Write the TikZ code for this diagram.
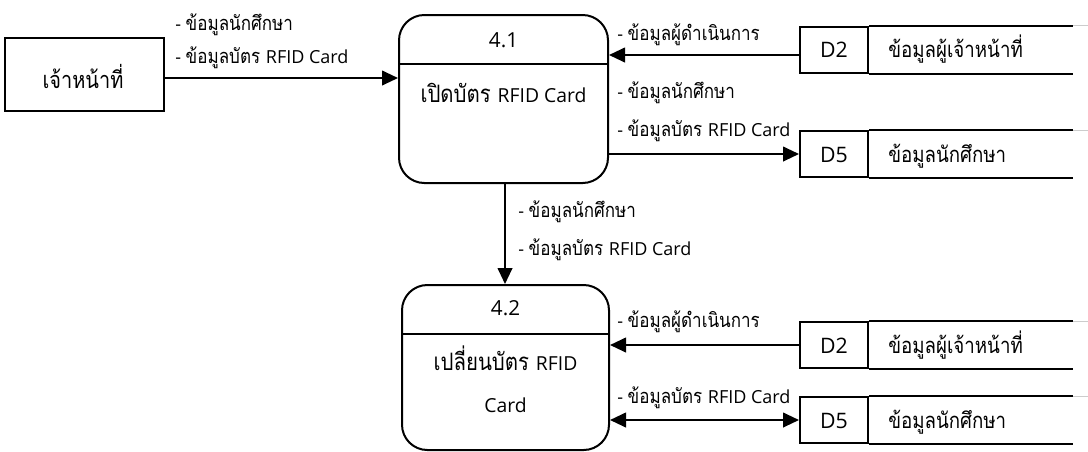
\documentclass[tikz,border=0pt]{standalone}
\usepackage{fontspec}
\setmainfont[Script=Thai,FakeStretch=0.85]{Loma}
\newfontfamily\latn{Open Sans}
\newcommand\latL[1]{{\latn\fontsize{13.5pt}{16pt}\selectfont #1}}
\newcommand\latP[1]{{\latn\fontsize{14.5pt}{17pt}\selectfont #1}}
\newcommand\latN[1]{{\latn\fontsize{15.5pt}{18pt}\selectfont #1}}
\newcommand\latS[1]{{\latn\fontsize{16pt}{19pt}\selectfont #1}}
\usetikzlibrary{arrows.meta,calc}
\begin{document}
\begin{tikzpicture}[x=0.75pt,y=-0.75pt,
  box/.style={draw,line width=1.5pt,inner sep=0pt},
  proc/.style={draw,line width=1.5pt,rounded corners=19pt,inner sep=0pt},
  flow/.style={line width=1.5pt,-{Triangle[length=12pt,width=11pt]}},
  flowb/.style={line width=1.5pt,{Triangle[length=12pt,width=11pt]}-{Triangle[length=12pt,width=11pt]}},
  lbl/.style={anchor=base west,inner sep=0pt,font=\fontsize{15pt}{18pt}\selectfont},
  big/.style={anchor=base,inner sep=0pt,font=\fontsize{18pt}{21pt}\selectfont},
  ent/.style={anchor=base,inner sep=0pt,font=\fontsize{17.6pt}{21pt}\selectfont},
  st/.style={anchor=base,inner sep=0pt},
  stn/.style={anchor=base west,inner sep=0pt,font=\fontsize{16.5pt}{19pt}\selectfont}]
\useasboundingbox (0,0) rectangle (1088,451);
% external entity
\node[box,minimum width=159*0.75pt,minimum height=73*0.75pt] (ent) at (84.5,74.5) {};
\node[ent] (entt) at (83,88) {เจ้าหน้าที่};
% process 4.1
\node[proc,minimum width=209*0.75pt,minimum height=168*0.75pt] (p1) at (503.5,99) {};
\draw[line width=1.5pt] (p1.west |- {(0,64)}) -- (p1.east |- {(0,64)});
\node[big] (p1n) at (503.5,47) {\latN{4.1}};
\node[big] (p1t) at (503.5,102) {เปิดบัตร \latP{RFID Card}};
% process 4.2
\node[proc,minimum width=207*0.75pt,minimum height=165*0.75pt] (p2) at (505.5,367.5) {};
\draw[line width=1.5pt] (p2.west |- {(0,334)}) -- (p2.east |- {(0,334)});
\node[big] (p2n) at (505.5,315) {\latN{4.2}};
\node[big] (p2t) at (505.5,370) {เปลี่ยนบัตร \latP{RFID}};
\node[big] (p2c) at (505.5,412) {\latP{Card}};
% data stores
\foreach \n/\y/\id/\name in {d2a/49.5/D2/ข้อมูลผู้เจ้าหน้าที่, d5a/154/D5/ข้อมูลนักศึกษา, d2b/345/D2/ข้อมูลผู้เจ้าหน้าที่, d5b/420/D5/ข้อมูลนักศึกษา}{
  \node[box,minimum width=68*0.75pt,minimum height=46*0.75pt] (\n) at (834,\y) {};
  \node[st] (\n id) at (834,\y+8) {\latS{\id}};
  \node[stn] (\n nm) at (888,\y+8) {\name};
  \draw[line width=1.5pt] (\n.north east) -- ++(204,0);
  \draw[line width=1.5pt] (\n.south east) -- ++(204,0);
  \draw[black!20,line width=0.6pt] ($(\n.north east)+(204,0)$) -- ++(16,0);
}
% flows
\draw[flow] (ent.east |- {(0,78)}) -- (p1.west |- {(0,78)});
\node[lbl] (l1) at (175,30) {\latL{- }ข้อมูลนักศึกษา};
\node[lbl] (l2) at (175,63) {\latL{- }ข้อมูลบัตร \latL{RFID Card}};
\draw[flow] (d2a.west |- {(0,55)}) -- (p1.east |- {(0,55)});
\node[lbl] (l3) at (617,40) {\latL{- }ข้อมูลผู้ดำเนินการ};
\draw[flow] (p1.east |- d5a.west) -- (d5a.west);
\node[lbl] (l4) at (617,98) {\latL{- }ข้อมูลนักศึกษา};
\node[lbl] (l5) at (617,136) {\latL{- }ข้อมูลบัตร \latL{RFID Card}};
\draw[flow] (p1.south -| {(505,0)}) -- (p2.north -| {(505,0)});
\node[lbl] (l6) at (518,217) {\latL{- }ข้อมูลนักศึกษา};
\node[lbl] (l7) at (518,255) {\latL{- }ข้อมูลบัตร \latL{RFID Card}};
\draw[flow] (d2b.west) -- (p2.east |- d2b.west);
\node[lbl] (l8) at (617,327) {\latL{- }ข้อมูลผู้ดำเนินการ};
\draw[flowb] (p2.east |- d5b.west) -- (d5b.west);
\node[lbl] (l9) at (617,403) {\latL{- }ข้อมูลบัตร \latL{RFID Card}};
\end{tikzpicture}
\end{document}
